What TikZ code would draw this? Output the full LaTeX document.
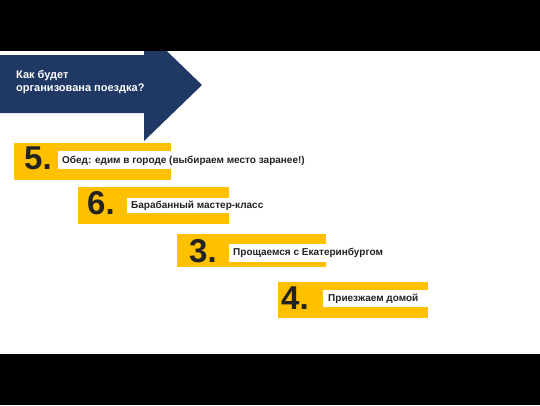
\documentclass[tikz,border=0pt]{standalone}
\usepackage{fontspec}
\setmainfont{Liberation Sans}
\definecolor{navy}{HTML}{203864}
\definecolor{gold}{HTML}{FFC000}
\definecolor{ink}{HTML}{222222}
\begin{document}
\begin{tikzpicture}[x=1pt,y=-1pt,
  numtxt/.style={anchor=base west,inner sep=0pt,text=ink,font=\fontsize{33}{33}\selectfont\bfseries},
  lbltxt/.style={anchor=west,inner sep=0pt,text=ink,font=\fontsize{10}{12}\selectfont\bfseries},
  hdrtxt/.style={anchor=west,inner sep=0pt,text=white,align=left,font=\fontsize{11}{13}\selectfont\bfseries}]
\useasboundingbox (0,0) rectangle (540,405);
\fill[white] (0,0) rectangle (540,405);
% header arrow
\fill[navy] (0,55) -- (144,55) -- (144,29) -- (202,85) -- (144,141) -- (144,113) -- (0,113) -- cycle;
\node[hdrtxt] (hdr) at (16,82) {Как будет\\организована поездка?};
% step 5
\fill[gold] (14,143) rectangle (171,180);
\fill[white] (58,151) rectangle (171,169);
\node[numtxt] (n5) at (24,169) {5.};
\node[lbltxt] (l5) at (62,160.5) {Обед: едим в городе (выбираем место заранее!)};
% step 6
\fill[gold] (78,187) rectangle (229,224);
\fill[white] (127,198) rectangle (229,213);
\node[numtxt] (n6) at (87,214) {6.};
\node[lbltxt] (l6) at (131,205.5) {Барабанный мастер-класс};
% step 3
\fill[gold] (177,234) rectangle (326,267);
\fill[white] (229,244) rectangle (326,262);
\node[numtxt] (n3) at (189,262) {3.};
\node[lbltxt] (l3) at (233,253) {Прощаемся с Екатеринбургом};
% step 4
\fill[gold] (278,282) rectangle (428,318);
\fill[white] (323,290) rectangle (428,307);
\node[numtxt] (n4) at (281,309) {4.};
\node[lbltxt] (l4) at (328,298.5) {Приезжаем домой};
% black bars
\fill[black] (0,0) rectangle (540,51);
\fill[black] (0,354) rectangle (540,405);
\end{tikzpicture}
\end{document}
